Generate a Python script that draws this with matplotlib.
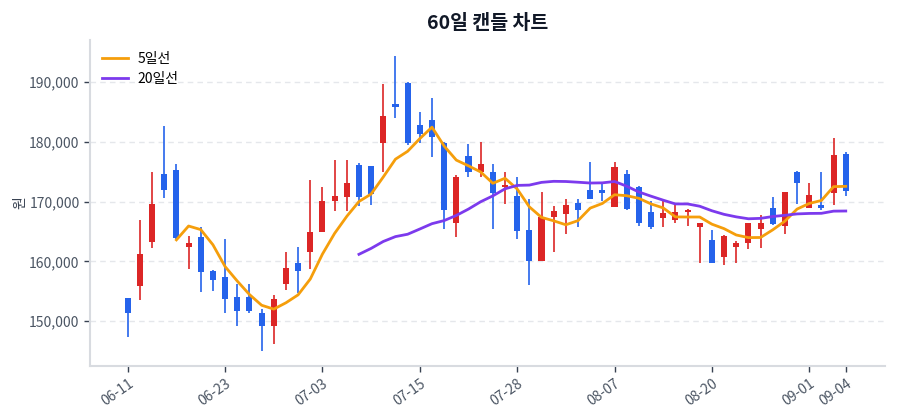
import numpy as np
import pandas as pd
import matplotlib
matplotlib.use("Agg")
import matplotlib.pyplot as plt
from matplotlib.ticker import FuncFormatter

plt.rcParams['font.family'] = ['Noto Sans CJK KR', 'DejaVu Sans']

# 60 trading days (MM-DD)
dates = [
    "06-11", "06-12", "06-13", "06-16", "06-17", "06-18", "06-19", "06-20",
    "06-23", "06-24", "06-25", "06-26", "06-27", "06-30", "07-01", "07-02",
    "07-03", "07-04", "07-07", "07-08", "07-09", "07-10", "07-11", "07-14",
    "07-15", "07-16", "07-18", "07-21", "07-22", "07-23", "07-24", "07-25",
    "07-28", "07-29", "07-30", "07-31", "08-01", "08-04", "08-05", "08-06",
    "08-07", "08-08", "08-11", "08-12", "08-13", "08-14", "08-18", "08-19",
    "08-20", "08-21", "08-22", "08-25", "08-26", "08-27", "08-28", "08-29",
    "09-01", "09-02", "09-03", "09-04",
]

# OHLC prices (원)
opens = [
    153800, 155900, 163300, 174600, 175300, 162400, 164000, 158400, 157300, 154000,
    154000, 151300, 149200, 156200, 159700, 161600, 165000, 170100, 170800, 176200,
    175900, 179800, 186300, 189800, 182800, 183700, 179900, 166500, 177700, 175000,
    174900, 172400, 171000, 165300, 160000, 167400, 167900, 169700, 172000, 172000,
    169100, 174600, 172500, 168200, 167200, 166900, 168200, 165800, 163600, 160800,
    162400, 163100, 165500, 168900, 165900, 174900, 168900, 169500, 171500, 178000,
]
highs = [
    153900, 167000, 174900, 182600, 176300, 164300, 165800, 158600, 163700, 156200,
    156200, 152100, 154400, 161600, 162400, 173600, 172500, 176900, 176900, 176500,
    175900, 189700, 194400, 190100, 185100, 187400, 180000, 174500, 179700, 180000,
    176300, 174900, 174100, 170400, 171600, 169200, 170500, 170500, 176700, 173100,
    176700, 175300, 172700, 170100, 170100, 169700, 168800, 166500, 165300, 164400,
    163400, 166500, 167700, 170700, 171600, 175200, 173100, 174900, 180600, 178300,
]
lows = [
    147400, 153600, 162200, 170600, 163800, 158700, 154900, 155100, 151400, 149100,
    151400, 144900, 146200, 155200, 154650, 158700, 164900, 168400, 168400, 169200,
    169400, 174900, 184000, 179500, 179900, 177400, 165500, 164000, 174200, 174200,
    165500, 169600, 163700, 156050, 160000, 161600, 164500, 165800, 170400, 170100,
    169100, 168600, 165900, 165500, 165700, 166400, 166000, 159800, 159800, 159400,
    159800, 162100, 162200, 166100, 164500, 169600, 168900, 168600, 169400, 170900,
]
closes = [
    151400, 161200, 169600, 171900, 163900, 163000, 158200, 156900, 153650, 151750,
    151750, 149200, 153650, 158950, 158400, 165000, 170100, 171000, 173200, 170800,
    171300, 184400, 185900, 179800, 181400, 180900, 168600, 174100, 175000, 176300,
    171400, 172800, 165150, 160000, 167500, 168500, 169500, 168600, 170500, 171400,
    175800, 168700, 166400, 165800, 168050, 168300, 168600, 166400, 159800, 164300,
    163000, 166400, 166500, 166200, 171600, 173100, 171100, 169000, 177800, 171850,
]

UP = "#dc2626"
DOWN = "#2563eb"

df = pd.DataFrame({"open": opens, "high": highs, "low": lows, "close": closes})
df["ma5"] = df["close"].rolling(5).mean()
df["ma20"] = df["close"].rolling(20).mean()
x = np.arange(len(df))

fig = plt.figure(figsize=(9, 4.2), dpi=100)
ax = fig.add_axes([0.1, 0.129, 0.883, 0.776])

colors = [UP if c >= o else DOWN for o, c in zip(df["open"], df["close"])]
body_low = np.minimum(df["open"], df["close"])
body_h = np.maximum((df["close"] - df["open"]).abs(), 300)

# wicks + bodies
ax.vlines(x, df["low"], df["high"], colors=colors, linewidth=1.2, zorder=2)
ax.bar(x, body_h, bottom=body_low, width=0.5, color=colors, zorder=3)

# moving averages
ax.plot(x, df["ma5"], color="#f59e0b", linewidth=2, label="5일선", zorder=4)
ax.plot(x, df["ma20"], color="#7c3aed", linewidth=2, label="20일선", zorder=4)

ax.set_xlim(-3.1, 62.2)
ax.set_ylim(142500, 197100)
ax.set_yticks([150000, 160000, 170000, 180000, 190000])
ax.yaxis.set_major_formatter(FuncFormatter(lambda v, p: f"{v:,.0f}"))

tick_pos = list(range(0, len(dates), 8)) + [len(dates) - 1]
ax.set_xticks(tick_pos)
ax.set_xticklabels([dates[i] for i in tick_pos], rotation=35, ha="right",
                   rotation_mode="anchor")

ax.grid(axis="y", linestyle=(0, (4, 3)), color="#e5e7eb", linewidth=1)
ax.set_axisbelow(True)
for s in ["top", "right"]:
    ax.spines[s].set_visible(False)
for s in ["left", "bottom"]:
    ax.spines[s].set_color("#d8dbe0")
    ax.spines[s].set_linewidth(1.5)
ax.tick_params(axis="both", colors="#4b5563", labelsize=10, length=4, width=1)
ax.tick_params(axis="both", color="#374151")

ax.set_ylabel("원", fontsize=10, color="#374151", labelpad=1)
ax.set_title("60일 캔들 차트", fontsize=14, fontweight="bold", color="#111827", pad=8)
ax.legend(loc="upper left", frameon=False, fontsize=10, handlelength=1.9,
          handletextpad=0.65, borderaxespad=0.45, labelspacing=0.45)

fig.savefig("out.png", dpi=100)
